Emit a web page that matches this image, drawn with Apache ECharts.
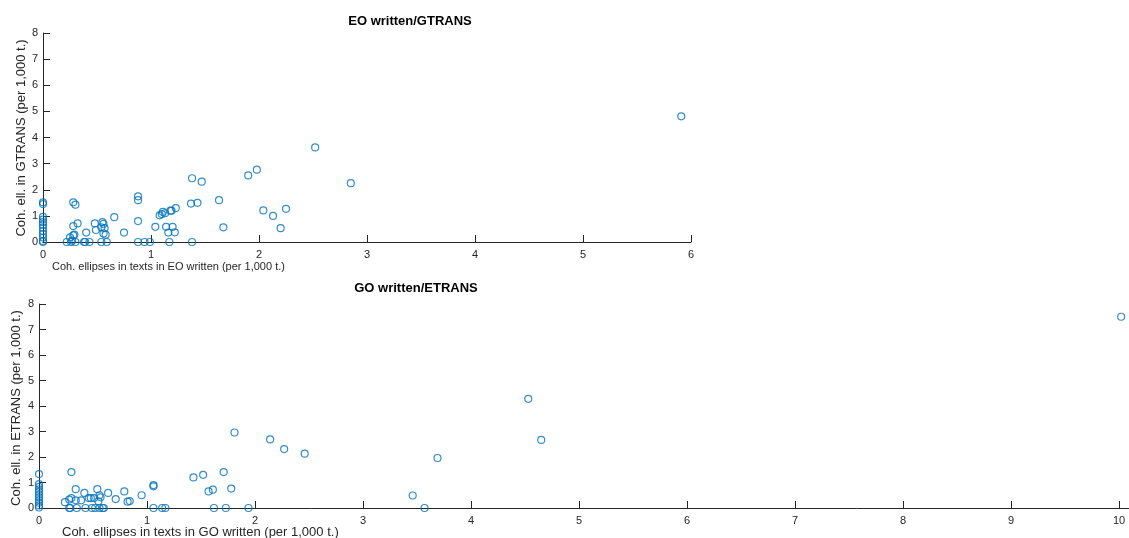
<!DOCTYPE html>
<html>
<head>
<meta charset="utf-8">
<script src="https://cdn.jsdelivr.net/npm/echarts@6/dist/echarts.min.js"></script>
<style>
  html, body { margin: 0; padding: 0; background: #fff; }
  #chart { width: 1129px; height: 538px; }
</style>
</head>
<body>
<div id="chart"></div>
<script>
// Coherence ellipses per 1,000 tokens: originals vs. translations
const eoWritten = [0, 0, 0, 0, 0, 0, 0, 0, 0, 0, 0, 0,
  0.22, 0.25, 0.26, 0.28, 0.30, 0.28, 0.30, 0.28, 0.32, 0.27, 0.29, 0.38, 0.39, 0.40, 0.43,
  0.48, 0.49, 0.54, 0.54, 0.55, 0.56, 0.57, 0.58, 0.56, 0.59, 0.66, 0.75, 0.88, 0.88, 0.88,
  0.88, 0.94, 0.99, 1.04, 1.08, 1.10, 1.11, 1.13, 1.14, 1.16, 1.17, 1.18, 1.19, 1.20, 1.22,
  1.23, 1.38, 1.37, 1.38, 1.43, 1.47, 1.63, 1.67, 1.90, 1.98, 2.52, 2.85, 2.04, 2.13, 2.25,
  2.20, 5.91];
const gtrans = [1.52, 1.45, 0.96, 0.86, 0.76, 0.66, 0.55, 0.42, 0.30, 0.17, 0.04, 0,
  0, 0.18, 0, 0.25, 0, 1.52, 1.43, 0.61, 0.71, 0.05, 0.28, 0, 0, 0.36, 0,
  0.71, 0.46, 0, 0.56, 0.76, 0.69, 0.53, 0.28, 0.33, 0, 0.95, 0.36, 1.75, 1.60, 0.80,
  0, 0, 0, 0.58, 1.02, 1.07, 1.15, 1.10, 0.58, 0.36, 0, 1.20, 1.20, 0.58, 0.37,
  1.30, 2.44, 1.47, 0, 1.50, 2.31, 1.60, 0.56, 2.55, 2.77, 3.62, 2.25, 1.21, 1.00, 1.27,
  0.53, 4.81];

const goWritten = [0, 0, 0, 0, 0, 0, 0, 0, 0, 0, 0,
  0.24, 0.28, 0.28, 0.30, 0.30, 0.29, 0.34, 0.34, 0.35, 0.39, 0.42, 0.43, 0.46, 0.48, 0.49,
  0.51, 0.54, 0.52, 0.55, 0.56, 0.56, 0.57, 0.59, 0.60, 0.64, 0.71, 0.79, 0.82, 0.84, 0.95,
  1.06, 1.06, 1.06, 1.14, 1.17, 1.43, 1.52, 1.57, 1.61, 1.62, 1.71, 1.73, 1.78, 1.81, 1.94,
  2.14, 2.27, 2.46, 3.46, 3.57, 3.69, 4.53, 4.65, 10.02];
const etrans = [1.33, 0.94, 0.83, 0.73, 0.63, 0.52, 0.42, 0.31, 0.21, 0.10, 0.02,
  0.23, 0, 0.33, 1.41, 0.39, 0, 0.74, 0.30, 0, 0.30, 0.59, 0, 0.39, 0.39, 0,
  0.39, 0.74, 0, 0.26, 0.50, 0, 0.42, 0, 0, 0.59, 0.35, 0.65, 0.25, 0.27, 0.50,
  0.90, 0.85, 0, 0, 0, 1.20, 1.30, 0.65, 0.72, 0, 1.41, 0, 0.76, 2.96, 0,
  2.69, 2.31, 2.13, 0.49, 0, 1.96, 4.28, 2.67, 7.50];

const yTicks = [0, 1, 2, 3, 4, 5, 6, 7, 8];
const xTicksTop = [0, 1, 2, 3, 4, 5, 6];
const xTicksBottom = [0, 1, 2, 3, 4, 5, 6, 7, 8, 9, 10];

const titles = ['EO written/GTRANS', 'GO written/ETRANS'];
const xNames = ['Coh. ellipses in texts in EO written (per 1,000 t.)',
                'Coh. ellipses in texts in GO written (per 1,000 t.)'];
const yNames = ['Coh. ell. in GTRANS (per 1,000 t.)',
                'Coh. ell. in ETRANS (per 1,000 t.)'];

const INK = '#262626';
const BLUE = '#0072BD';
const FONT = '"Liberation Sans", Arial, Helvetica, sans-serif';

function pairs(xs, ys) { return xs.map((x, i) => [x, ys[i]]); }

function xAxisFor(idx, max, ticks) {
  return {
    type: 'value', gridIndex: idx, min: 0, max: max,
    splitLine: { show: false },
    axisLine: { lineStyle: { color: INK, width: 1 } },
    axisTick: { inside: true, length: 7, lineStyle: { color: INK }, customValues: ticks },
    axisLabel: { color: INK, fontSize: 11, fontFamily: FONT, margin: 7, customValues: ticks }
  };
}
function yAxisFor(idx) {
  return {
    type: 'value', gridIndex: idx, min: 0, max: 8, interval: 1,
    splitLine: { show: false },
    axisLine: { show: true, lineStyle: { color: INK, width: 1 } },
    axisTick: { show: true, inside: true, length: 7, lineStyle: { color: INK } },
    axisLabel: { color: INK, fontSize: 11, fontFamily: FONT, margin: 5, customValues: yTicks }
  };
}

const chart = echarts.init(document.getElementById('chart'), null, { renderer: 'canvas' });

const option = {
  animation: false,
  backgroundColor: '#ffffff',
  grid: [
    { left: 43, top: 33, width: 648, height: 209 },
    { left: 39, top: 304, width: 1090, height: 204 }
  ],
  xAxis: [
    xAxisFor(0, 6, xTicksTop),
    xAxisFor(1, 1090 / 108, xTicksBottom)
  ],
  yAxis: [yAxisFor(0), yAxisFor(1)],
  series: [
    {
      type: 'scatter', xAxisIndex: 0, yAxisIndex: 0, clip: false,
      data: pairs(eoWritten, gtrans),
      symbol: 'circle', symbolSize: 7,
      itemStyle: { color: 'rgba(0,0,0,0)', borderColor: BLUE, borderWidth: 1.2 }
    },
    {
      type: 'scatter', xAxisIndex: 1, yAxisIndex: 1, clip: false,
      data: pairs(goWritten, etrans),
      symbol: 'circle', symbolSize: 7,
      itemStyle: { color: 'rgba(0,0,0,0)', borderColor: BLUE, borderWidth: 1.2 }
    }
  ],
  graphic: [
    { type: 'text', x: 410, y: 21, style: { text: titles[0], font: 'bold 13px ' + FONT, fill: '#000', align: 'center', verticalAlign: 'middle' } },
    { type: 'text', x: 416, y: 288, style: { text: titles[1], font: 'bold 13px ' + FONT, fill: '#000', align: 'center', verticalAlign: 'middle' } },
    { type: 'text', x: 52, y: 267, style: { text: xNames[0], font: '11px ' + FONT, fill: INK, align: 'left', verticalAlign: 'middle' } },
    { type: 'text', x: 62, y: 532, style: { text: xNames[1], font: '13px ' + FONT, fill: INK, align: 'left', verticalAlign: 'middle' } },
    { type: 'text', x: 21, y: 138, rotation: Math.PI / 2, style: { text: yNames[0], font: '13px ' + FONT, fill: INK, align: 'center', verticalAlign: 'middle' } },
    { type: 'text', x: 16, y: 408, rotation: Math.PI / 2, style: { text: yNames[1], font: '13px ' + FONT, fill: INK, align: 'center', verticalAlign: 'middle' } }
  ]
};

chart.setOption(option);
</script>
</body>
</html>
